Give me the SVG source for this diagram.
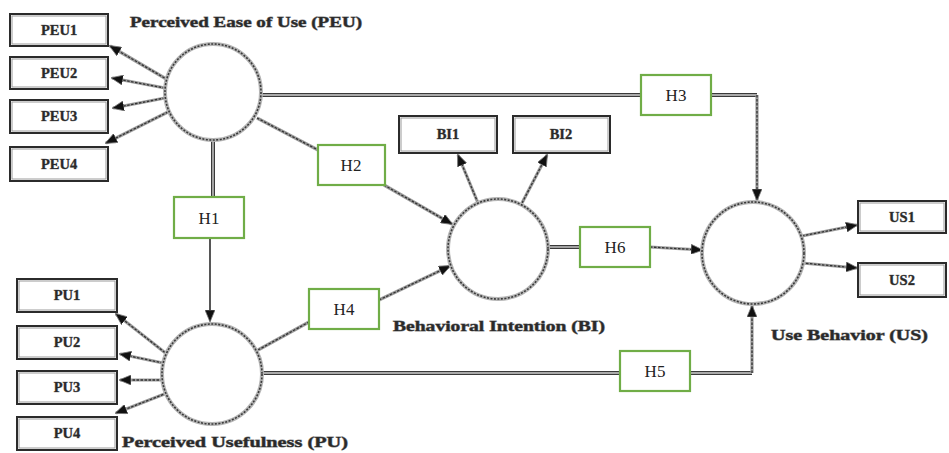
<svg xmlns="http://www.w3.org/2000/svg" width="949" height="453" viewBox="0 0 949 453">
  <style>
    .ind rect.frame { fill: #ffffff; stroke: #2b2b2b; stroke-width: 2; }
    .ind rect.shade { fill: none; stroke: #9a9a9a; stroke-width: 1; }
    .ind text { font-family: "Liberation Serif", "Times New Roman", serif; font-size: 14.5px; font-weight: bold; fill: #2a2a2a; stroke: #8a8a8a; stroke-width: 0.6; paint-order: stroke; text-anchor: middle; }
    .lv circle.halo { fill: #ffffff; stroke: #b5b5b5; stroke-width: 4; }
    .lv circle.grain { fill: none; stroke: #3a3a3a; stroke-width: 1.6; stroke-dasharray: 2 1.5; }
    .caption { font-family: "Liberation Serif", "Times New Roman", serif; font-size: 15px; font-weight: bold; fill: #2a2a2a; stroke: #8a8a8a; stroke-width: 0.8; paint-order: stroke; }
    .hyp rect { fill: #ffffff; stroke: #70ad47; stroke-width: 2.2; }
    .hyp text { font-family: "Liberation Serif", "Times New Roman", serif; font-size: 17px; fill: #222222; text-anchor: middle; }
    .rough { fill: none; stroke: #9c9c9c; stroke-width: 3.2; }
    .rough-core { fill: none; stroke: #333333; stroke-width: 1.3; stroke-dasharray: 2.5 1.5; }
    .pipe { fill: none; stroke: #3a3a3a; stroke-width: 4; }
    .pipe-core { fill: none; stroke: #d0d0d0; stroke-width: 1.4; }
    .thin { fill: none; stroke: #444444; stroke-width: 1.8; }
  </style>
  <defs>
    <marker id="tip" viewBox="0 0 12 10" refX="11" refY="5" markerWidth="12" markerHeight="10" markerUnits="userSpaceOnUse" orient="auto">
      <path d="M0,0 L12,5 L0,10 z" fill="#111111" stroke="#777777" stroke-width="0.8"/>
    </marker>
  </defs>

  <!-- structural paths -->
  <g id="connectors">
    <!-- PEU to indicators -->
    <g>
      <path class="rough" d="M168,80 L110,46"/>
      <path class="rough" d="M165,88 L112,78"/>
      <path class="rough" d="M165,98 L113,108"/>
      <path class="rough" d="M168,112 L106,143"/>
      <path class="rough-core" d="M168,80 L110,46" marker-end="url(#tip)"/>
      <path class="rough-core" d="M165,88 L112,78" marker-end="url(#tip)"/>
      <path class="rough-core" d="M165,98 L113,108" marker-end="url(#tip)"/>
      <path class="rough-core" d="M168,112 L106,143" marker-end="url(#tip)"/>
    </g>
    <!-- PU to indicators -->
    <g>
      <path class="rough" d="M168,355 L116,314"/>
      <path class="rough" d="M163,363 L120,354"/>
      <path class="rough" d="M163,380 L120,380"/>
      <path class="rough" d="M167,393 L116,413"/>
      <path class="rough-core" d="M168,355 L116,314" marker-end="url(#tip)"/>
      <path class="rough-core" d="M163,363 L120,354" marker-end="url(#tip)"/>
      <path class="rough-core" d="M163,380 L120,380" marker-end="url(#tip)"/>
      <path class="rough-core" d="M167,393 L116,413" marker-end="url(#tip)"/>
    </g>
    <!-- BI to indicators -->
    <g>
      <path class="rough" d="M478,203 L458,155"/>
      <path class="rough" d="M522,203 L547,155"/>
      <path class="rough-core" d="M478,203 L458,155" marker-end="url(#tip)"/>
      <path class="rough-core" d="M522,203 L547,155" marker-end="url(#tip)"/>
    </g>
    <!-- UB to indicators -->
    <g>
      <path class="rough" d="M802,236 L857,225"/>
      <path class="rough" d="M802,263 L857,268"/>
      <path class="rough-core" d="M802,236 L857,225" marker-end="url(#tip)"/>
      <path class="rough-core" d="M802,263 L857,268" marker-end="url(#tip)"/>
    </g>

    <!-- H1: PEU to PU -->
    <path class="pipe" d="M213,140 L213,197"/>
    <path class="pipe-core" d="M213,140 L213,197"/>
    <path class="thin" d="M210,239 L210,321" marker-end="url(#tip)"/>

    <!-- H2: PEU to BI -->
    <path class="rough" d="M257,118 L318,150"/>
    <path class="rough" d="M384,185 L452,224"/>
    <path class="rough-core" d="M257,118 L318,150"/>
    <path class="rough-core" d="M384,185 L452,224" marker-end="url(#tip)"/>

    <!-- H3: PEU to UB -->
    <path class="pipe" d="M261,95 L641,95"/>
    <path class="pipe-core" d="M261,95 L641,95"/>
    <path class="pipe" d="M711,95 L757,95"/>
    <path class="pipe-core" d="M711,95 L757,95"/>
    <path class="rough" d="M757,95 L757,200"/>
    <path class="rough-core" d="M757,95 L757,200" marker-end="url(#tip)"/>

    <!-- H4: PU to BI -->
    <path class="rough" d="M258,350 L309,322"/>
    <path class="rough" d="M379,300 L450,266"/>
    <path class="rough-core" d="M258,350 L309,322"/>
    <path class="rough-core" d="M379,300 L450,266" marker-end="url(#tip)"/>

    <!-- H5: PU to UB -->
    <path class="pipe" d="M262,373 L620,373"/>
    <path class="pipe-core" d="M262,373 L620,373"/>
    <path class="pipe" d="M690,373 L752,373"/>
    <path class="pipe-core" d="M690,373 L752,373"/>
    <path class="rough" d="M752,373 L752,306"/>
    <path class="rough-core" d="M752,373 L752,306" marker-end="url(#tip)"/>

    <!-- H6: BI to UB -->
    <path class="pipe" d="M548,247 L580,247"/>
    <path class="pipe-core" d="M548,247 L580,247"/>
    <path class="rough" d="M650,247 L702,250"/>
    <path class="rough-core" d="M650,247 L702,250" marker-end="url(#tip)"/>
  </g>

  <!-- latent variables -->
  <g id="peu" class="lv">
    <circle class="halo" cx="213" cy="92" r="48"/>
    <circle class="grain" cx="213" cy="92" r="48"/>
    <text class="caption" x="130" y="27" textLength="232" lengthAdjust="spacingAndGlyphs">Perceived Ease of Use (PEU)</text>
  </g>
  <g id="pu" class="lv">
    <circle class="halo" cx="212" cy="374" r="50"/>
    <circle class="grain" cx="212" cy="374" r="50"/>
    <text class="caption" x="122" y="447" textLength="226" lengthAdjust="spacingAndGlyphs">Perceived Usefulness (PU)</text>
  </g>
  <g id="bi" class="lv">
    <circle class="halo" cx="498" cy="249" r="50"/>
    <circle class="grain" cx="498" cy="249" r="50"/>
    <text class="caption" x="393" y="331" textLength="212" lengthAdjust="spacingAndGlyphs">Behavioral Intention (BI)</text>
  </g>
  <g id="ub" class="lv">
    <circle class="halo" cx="753" cy="253" r="51"/>
    <circle class="grain" cx="753" cy="253" r="51"/>
    <text class="caption" x="771" y="340" textLength="157" lengthAdjust="spacingAndGlyphs">Use Behavior (US)</text>
  </g>

  <!-- indicators -->
  <g id="peu1" class="ind"><rect class="frame" x="10" y="14" width="98" height="32"/><rect class="shade" x="12" y="16" width="94" height="28"/><text x="59" y="35">PEU1</text></g>
  <g id="peu2" class="ind"><rect class="frame" x="10" y="57" width="98" height="32"/><rect class="shade" x="12" y="59" width="94" height="28"/><text x="59" y="78">PEU2</text></g>
  <g id="peu3" class="ind"><rect class="frame" x="10" y="100" width="98" height="33"/><rect class="shade" x="12" y="102" width="94" height="29"/><text x="59" y="121">PEU3</text></g>
  <g id="peu4" class="ind"><rect class="frame" x="10" y="147" width="98" height="34"/><rect class="shade" x="12" y="149" width="94" height="30"/><text x="59" y="169">PEU4</text></g>

  <g id="pu1" class="ind"><rect class="frame" x="17" y="279" width="100" height="33"/><rect class="shade" x="19" y="281" width="96" height="29"/><text x="67" y="300">PU1</text></g>
  <g id="pu2" class="ind"><rect class="frame" x="17" y="326" width="100" height="33"/><rect class="shade" x="19" y="328" width="96" height="29"/><text x="67" y="347">PU2</text></g>
  <g id="pu3" class="ind"><rect class="frame" x="17" y="371" width="100" height="33"/><rect class="shade" x="19" y="373" width="96" height="29"/><text x="67" y="392">PU3</text></g>
  <g id="pu4" class="ind"><rect class="frame" x="17" y="417" width="100" height="33"/><rect class="shade" x="19" y="419" width="96" height="29"/><text x="67" y="438">PU4</text></g>

  <g id="bi1" class="ind"><rect class="frame" x="399" y="116" width="98" height="37"/><rect class="shade" x="401" y="118" width="94" height="33"/><text x="448" y="139">BI1</text></g>
  <g id="bi2" class="ind"><rect class="frame" x="513" y="116" width="97" height="37"/><rect class="shade" x="515" y="118" width="93" height="33"/><text x="561" y="139">BI2</text></g>

  <g id="us1" class="ind"><rect class="frame" x="858" y="201" width="88" height="32"/><rect class="shade" x="860" y="203" width="84" height="28"/><text x="902" y="222">US1</text></g>
  <g id="us2" class="ind"><rect class="frame" x="858" y="263" width="88" height="34"/><rect class="shade" x="860" y="265" width="84" height="30"/><text x="902" y="285">US2</text></g>

  <!-- hypothesis labels -->
  <g id="h1" class="hyp"><rect x="174" y="197" width="70" height="41"/><text x="209" y="224">H1</text></g>
  <g id="h2" class="hyp"><rect x="318" y="145" width="67" height="40"/><text x="351" y="171">H2</text></g>
  <g id="h3" class="hyp"><rect x="641" y="75" width="70" height="40"/><text x="676" y="101">H3</text></g>
  <g id="h4" class="hyp"><rect x="309" y="289" width="70" height="40"/><text x="344" y="315">H4</text></g>
  <g id="h5" class="hyp"><rect x="620" y="351" width="70" height="40"/><text x="655" y="377">H5</text></g>
  <g id="h6" class="hyp"><rect x="580" y="227" width="70" height="40"/><text x="615" y="253">H6</text></g>
</svg>
